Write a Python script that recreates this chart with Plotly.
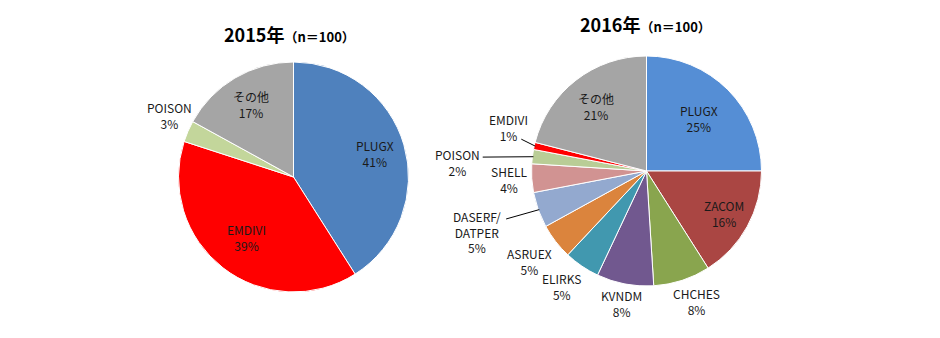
import math
import plotly.graph_objects as go

W, H = 940, 338
FONT = "Noto Sans CJK JP"

# --- data -------------------------------------------------------------
labels_2015 = ["PLUGX", "EMDIVI", "POISON", "その他"]
values_2015 = [41, 39, 3, 17]
colors_2015 = ["#4F81BD", "#FF0000", "#C3D69B", "#A5A5A5"]

labels_2016 = ["PLUGX", "ZACOM", "CHCHES", "KVNDM", "ELIRKS", "ASRUEX",
               "DASERF/<br>DATPER", "SHELL", "POISON", "EMDIVI", "その他"]
values_2016 = [25, 16, 8, 8, 5, 5, 5, 4, 2, 1, 21]
colors_2016 = ["#558ED5", "#AA4643", "#89A54E", "#71588F", "#4198AF", "#DB843D",
               "#93A9CF", "#D19392", "#B9CD96", "#FF0000", "#A5A5A5"]

titles = ["2015年", "2016年"]
n_text = "（n＝100）"

# --- layout parameters (pixels) ---------------------------------------
R = 115
pies = [
    dict(cx=293.5, cy=177, title_xy=(289, 34)),
    dict(cx=646.5, cy=171, title_xy=(645, 24)),
]
# label placement: radius from centre, angle shift (deg) from slice middle
label_style_2015 = [(85, 0), (76, 0), (139, 3), (84, 0)]
label_style_2016 = [(74, 0), (89, 0), (140, -3), (135, 0), (143, 2), (148, 0),
                    (180, 0), (138, 0), (189, -4.5), (145, 5), (82, 0)]
# leader lines: label index -> offset of line end from label centre
leaders_2016 = {6: (29, -13), 8: (25, -5), 9: (13, 12)}


def mid_angles(values):
    total = sum(values)
    acc, out = 0, []
    for v in values:
        out.append((acc + v / 2) / total * 360)
        acc += v
    return out


def polar(cx, cy, r, ang):
    a = math.radians(ang)
    return cx + r * math.sin(a), cy - r * math.cos(a)


fig = go.Figure()

datasets = [
    (labels_2015, values_2015, colors_2015, label_style_2015, {}),
    (labels_2016, values_2016, colors_2016, label_style_2016, leaders_2016),
]

annotations, shapes = [], []
for i, (labs, vals, cols, style, leaders) in enumerate(datasets):
    p = pies[i]
    cx, cy = p["cx"], p["cy"]
    fig.add_trace(go.Pie(
        labels=[l.replace("<br>", "") for l in labs], values=vals,
        sort=False, direction="clockwise", rotation=0,
        marker=dict(colors=cols, line=dict(color="white", width=1)),
        textinfo="none", hoverinfo="label+percent", showlegend=False,
        domain=dict(x=[(cx - R) / W, (cx + R) / W],
                    y=[(H - cy - R) / H, (H - cy + R) / H]),
    ))
    total = sum(vals)
    for j, (lab, v, ang) in enumerate(zip(labs, vals, mid_angles(vals))):
        r, shift = style[j]
        lx, ly = polar(cx, cy, r, ang + shift)
        pct = round(v / total * 100)
        annotations.append(dict(
            x=lx, y=ly, xref="x", yref="y", showarrow=False,
            text=f"{lab}<br>{pct}%", align="center",
            font=dict(family=FONT, size=12, color="#1a1a1a"),
        ))
        if j in leaders:
            ox, oy = leaders[j]
            ex, ey = polar(cx, cy, R - 1, ang)
            shapes.append(dict(type="line", xref="x", yref="y",
                               x0=lx + ox, y0=ly + oy, x1=ex, y1=ey,
                               line=dict(color="#000000", width=1)))
    tx, ty = p["title_xy"]
    annotations.append(dict(
        x=tx, y=ty, xref="x", yref="y", showarrow=False,
        text=f"<b>{titles[i]}</b><b><span style='font-size:13px'>{n_text}</span></b>",
        font=dict(family=FONT, size=18, color="#000000"),
    ))

fig.update_layout(
    width=W, height=H,
    margin=dict(l=0, r=0, t=0, b=0),
    paper_bgcolor="white", plot_bgcolor="rgba(0,0,0,0)",
    xaxis=dict(range=[0, W], visible=False, fixedrange=True),
    yaxis=dict(range=[H, 0], visible=False, fixedrange=True),
    annotations=annotations, shapes=shapes,
)

fig.write_html("out.html")
